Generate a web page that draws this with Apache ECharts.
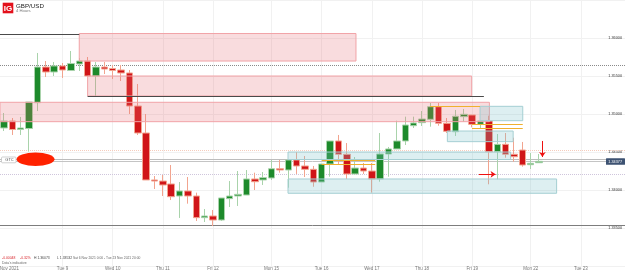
<!DOCTYPE html>
<html>
<head>
<meta charset="utf-8">
<title>GBP/USD 4 Hours</title>
<style>html,body{margin:0;padding:0;background:#fff}#chart{width:625px;height:272px}</style>
<script src="https://cdn.jsdelivr.net/npm/echarts@6/dist/echarts.min.js"></script>
</head>
<body>
<div id="chart"></div>
<script>
// Four-hour candles, one row each: open, close, low, high
const candles = [
  [1.34816,1.34908,1.34776,1.35013],[1.34908,1.34796,1.34724,1.34947],[1.34796,1.34816,1.34724,1.34961],
  [1.34809,1.35158,1.34505,1.35158],[1.35149,1.35618,1.35039,1.35803],[1.35618,1.35553,1.35487,1.35697],
  [1.35553,1.35632,1.35500,1.35684],[1.35632,1.35579,1.35474,1.35671],[1.35572,1.35664,1.35566,1.35829],
  [1.35658,1.35697,1.35566,1.35737],[1.35697,1.35500,1.35500,1.35750],[1.35500,1.35618,1.35237,1.35684],
  [1.35618,1.35592,1.35526,1.35684],[1.35599,1.35572,1.35461,1.35645],[1.35579,1.35540,1.35434,1.35645],
  [1.35540,1.35105,1.35000,1.35579],[1.35105,1.34750,1.34724,1.35395],[1.34750,1.34132,1.34132,1.35000],
  [1.34132,1.34118,1.34013,1.34184],[1.34118,1.34066,1.33921,1.34197],[1.34079,1.33912,1.33868,1.34329],
  [1.33921,1.33987,1.33632,1.34105],[1.33987,1.33921,1.33820,1.34171],[1.33921,1.33636,1.33592,1.33965],
  [1.33636,1.33658,1.33579,1.33750],[1.33658,1.33605,1.33526,1.33737],[1.33605,1.33895,1.33592,1.33895],
  [1.33886,1.33921,1.33776,1.34118],[1.33921,1.33943,1.33790,1.34250],[1.33934,1.34145,1.33934,1.34263],
  [1.34145,1.34109,1.34000,1.34228],[1.34132,1.34162,1.34066,1.34237],[1.34158,1.34280,1.34132,1.34395],
  [1.34280,1.34263,1.34228,1.34395],[1.34263,1.34395,1.34030,1.34395],[1.34395,1.34316,1.34211,1.34500],
  [1.34316,1.34272,1.34171,1.34447],[1.34272,1.34105,1.34043,1.34316],[1.34105,1.34342,1.34105,1.34342],
  [1.34342,1.34645,1.34175,1.34645],[1.34645,1.34470,1.34329,1.34724],[1.34470,1.34211,1.34145,1.34618],
  [1.34211,1.34289,1.34211,1.34434],[1.34289,1.34250,1.34211,1.34355],[1.34250,1.34145,1.33965,1.34355],
  [1.34145,1.34474,1.34109,1.34750],[1.34474,1.34540,1.34175,1.34566],[1.34540,1.34645,1.34540,1.34912],
  [1.34645,1.34855,1.34592,1.34965],[1.34846,1.34882,1.34816,1.34965],[1.34886,1.34934,1.34842,1.35039],
  [1.34930,1.35096,1.34833,1.35145],[1.35096,1.34878,1.34846,1.35145],[1.34878,1.34772,1.34750,1.34947],
  [1.34767,1.34970,1.34711,1.35053],[1.34965,1.34996,1.34899,1.35066],[1.34987,1.34864,1.34825,1.34987],
  [1.34864,1.34908,1.34816,1.34908],[1.34908,1.34504,1.34075,1.34978],[1.34504,1.34601,1.34141,1.34737],
  [1.34601,1.34470,1.34425,1.34750],[1.34470,1.34438,1.34372,1.34688],[1.34526,1.34329,1.34307,1.34632],
  [1.34333,1.34351,1.34276,1.34487],[1.34359,1.34377,1.34359,1.34474]
];

// Candle position of each date label, and the label itself
const dayPositions = [0.65, 7, 13, 19, 25, 32, 38, 44, 50, 56, 63, 69];
const dayLabels = ['Nov 2021','Tue 9','Wed 10','Thu 11','Fri 12','Mon 15','Tue 16','Wed 17','Thu 18','Fri 19','Mon 22','Tue 23'];

// Horizontal extent of the chart, in candle positions
const LEFT_EDGE = -0.48, RIGHT_EDGE = 74.28;

// Zones: from candle, to candle, upper price, lower price
const supplyZones = [
  [9, 42.1, 1.36059, 1.35697],
  [10, 55.94, 1.35500, 1.35237],
  [LEFT_EDGE, 58.06, 1.35154, 1.34899]
];
const demandZones = [
  [33.97, 60.6, 1.34500, 1.34401],
  [33.97, 66.1, 1.34145, 1.33957],
  [53.03, 60.9, 1.34776, 1.34636],
  [56.94, 62.05, 1.35101, 1.34912]
];

// Trend levels: from candle, to candle, price
const blackLevels = [[LEFT_EDGE, 9, 1.36053], [10, 57.4, 1.35237]];
const orangeLevels = [
  [38, 44.4, 1.34391], [38, 44.4, 1.34338], [50.96, 56.94, 1.35101],
  [55.98, 62.05, 1.34864], [55.98, 62.05, 1.34812]
];

// Full-width levels
const lowLevel = 1.33530;
const dottedGrey = 1.35636;
const dottedOrange = 1.34526;
const dottedViolet = 1.34201;
const orderLevel = 1.34404;
const lastPrice = 1.34377;

// Red arrows: start candle, start price, end candle, end price
const arrows = [[56.8, 1.34206, 58.8, 1.34206], [64.4, 1.34645, 64.4, 1.34434]];

const fullWidth = (price, color, type, width) => [
  { coord: [LEFT_EDGE, price], lineStyle: { color, type, width } },
  { coord: [RIGHT_EDGE, price] }
];
const segment = ([a, b, price], color, width) => [
  { coord: [a, price], lineStyle: { color, type: 'solid', width } },
  { coord: [b, price] }
];
const zone = ([a, b, top, bottom], fill, border) => [
  { coord: [a, top], itemStyle: { color: fill, borderColor: border, borderWidth: 1 } },
  { coord: [b, bottom] }
];

const priceFont = 'Liberation Sans, Arial, sans-serif';
const chart = echarts.init(document.getElementById('chart'), null, { renderer: 'canvas' });

chart.setOption({
  animation: false,
  backgroundColor: '#ffffff',
  grid: { left: 0, right: 0, top: 0, bottom: 6, outerBoundsMode: 'none' },
  xAxis: {
    type: 'value',
    min: LEFT_EDGE,
    max: RIGHT_EDGE,
    axisLine: { show: false },
    axisTick: { show: false },
    splitLine: { show: false },
    axisLabel: {
      customValues: dayPositions,
      margin: 0,
      fontSize: 4.5,
      fontFamily: priceFont,
      color: v => (v === dayPositions[0] ? '#111111' : '#777777'),
      formatter: v => dayLabels[dayPositions.indexOf(v)] || ''
    }
  },
  yAxis: {
    type: 'value',
    position: 'right',
    min: 1.33,
    max: 1.365,
    interval: 0.005,
    axisLine: { show: false },
    axisTick: { show: false },
    splitLine: { lineStyle: { color: '#f1f1f1', width: 1 } },
    axisLabel: {
      inside: true,
      margin: 3,
      fontSize: 3.8,
      fontFamily: priceFont,
      color: '#333333',
      formatter: v => (v > 1.3325 && v < 1.3625 ? v.toFixed(5) : '')
    }
  },
  series: [
    {
      // Day separators and full-width levels behind the candles
      type: 'line',
      data: [],
      silent: true,
      markLine: {
        silent: true,
        z: 1,
        symbol: 'none',
        label: { show: false },
        data: [
          ...dayPositions.slice(1).map(d => [
            { coord: [d, 1.33], lineStyle: { color: '#f1f1f1', type: 'solid', width: 1 } },
            { coord: [d, 1.365] }
          ]),
          fullWidth(lowLevel, '#7d7d7d', 'solid', 1),
          fullWidth(dottedGrey, '#8a8a8a', 'dotted', 1),
          fullWidth(dottedOrange, '#f6cdbd', 'dotted', 1),
          fullWidth(dottedViolet, '#cfc5dc', 'dotted', 1),
          fullWidth(orderLevel, '#bdbdbd', 'solid', 1),
          fullWidth(lastPrice, '#c4c4c4', 'solid', 1)
        ]
      }
    },
    {
      type: 'candlestick',
      name: 'GBP/USD',
      barWidth: 7,
      data: candles.map((c, i) => [i, ...c]),
      itemStyle: {
        color: '#1d8a2b',
        color0: '#d01518',
        borderColor: '#a9d3ab',
        borderColor0: '#f2a48f',
        borderWidth: 1
      }
    },
    {
      // Zones and trend levels drawn over the candles
      type: 'line',
      data: [],
      silent: true,
      markArea: {
        silent: true,
        z: 5,
        label: { show: false },
        data: [
          ...supplyZones.map(z => zone(z, 'rgba(232,110,118,0.24)', '#f1a3a7')),
          ...demandZones.map(z => zone(z, 'rgba(120,190,200,0.25)', '#a5cfd3'))
        ]
      },
      markLine: {
        silent: true,
        z: 6,
        symbol: 'none',
        label: { show: false },
        data: [
          ...blackLevels.map(l => segment(l, '#4a4a4a', 1)),
          ...orangeLevels.map(l => segment(l, '#efb02e', 1))
        ]
      }
    },
    {
      // Red marker arrows
      type: 'line',
      data: [],
      silent: true,
      markLine: {
        silent: true,
        z: 7,
        symbol: ['none', 'arrow'],
        symbolSize: 5,
        label: { show: false },
        data: arrows.map(([a, p, b, q]) => [
          { coord: [a, p], lineStyle: { color: '#ee1111', type: 'solid', width: 1 } },
          { coord: [b, q] }
        ])
      }
    },
    {
      // Red oval sitting on the order level
      type: 'scatter',
      silent: true,
      z: 8,
      symbol: 'circle',
      symbolSize: [38, 13.4],
      itemStyle: { color: '#ff2200', opacity: 1 },
      data: [[3.77, orderLevel]]
    }
  ],
  graphic: [
    { type: 'rect', z: 20, shape: { x: 2.7, y: 2.7, width: 10.6, height: 10.6 }, style: { fill: '#e3101b' } },
    { type: 'text', z: 21, style: { x: 8, y: 8.3, text: 'IG', fill: '#ffffff', font: 'bold 8px ' + priceFont, align: 'center', verticalAlign: 'middle' } },
    { type: 'text', z: 21, style: { x: 16, y: 5.8, text: 'GBP/USD', fill: '#222222', font: '6.2px ' + priceFont, verticalAlign: 'middle' } },
    { type: 'text', z: 21, style: { x: 16, y: 11.3, text: '4 Hours', fill: '#777777', font: '4.2px ' + priceFont, verticalAlign: 'middle' } },
    { type: 'rect', z: 20, shape: { x: 1.5, y: 157, width: 14.5, height: 5.8, r: 1 }, style: { fill: '#ffffff', stroke: '#bbbbbb', lineWidth: 0.7 } },
    { type: 'text', z: 21, style: { x: 9.5, y: 160, text: 'GTC', fill: '#555555', font: '4px ' + priceFont, align: 'center', verticalAlign: 'middle' } },
    { type: 'rect', z: 20, shape: { x: 606, y: 158.3, width: 19, height: 6.4, r: 0.5 }, style: { fill: '#3d5272' } },
    { type: 'text', z: 21, style: { x: 622, y: 161.6, text: lastPrice.toFixed(5), fill: '#ffffff', font: '3.8px ' + priceFont, align: 'right', verticalAlign: 'middle' } },
    { type: 'text', z: 21, style: { x: 2, y: 257.8, text: '-0.00048', fill: '#d8262c', font: '3.4px ' + priceFont, verticalAlign: 'middle' } },
    { type: 'text', z: 21, style: { x: 20, y: 257.8, text: '-0.32%', fill: '#d8262c', font: '3.4px ' + priceFont, verticalAlign: 'middle' } },
    { type: 'text', z: 21, style: { x: 34, y: 257.8, text: 'H 1.36073', fill: '#444444', font: '3.4px ' + priceFont, verticalAlign: 'middle' } },
    { type: 'text', z: 21, style: { x: 57, y: 257.8, text: 'L 1.33532', fill: '#444444', font: '3.4px ' + priceFont, verticalAlign: 'middle' } },
    { type: 'text', z: 21, style: { x: 73, y: 257.8, text: 'Sat 6 Nov 2021 0:00 - Tue 23 Nov 2021 20:00', fill: '#666666', font: '3.3px ' + priceFont, verticalAlign: 'middle' } },
    { type: 'text', z: 21, style: { x: 2, y: 263.2, text: "Data's indicative", fill: '#666666', font: '3.4px ' + priceFont, verticalAlign: 'middle' } }
  ]
});
</script>
</body>
</html>
